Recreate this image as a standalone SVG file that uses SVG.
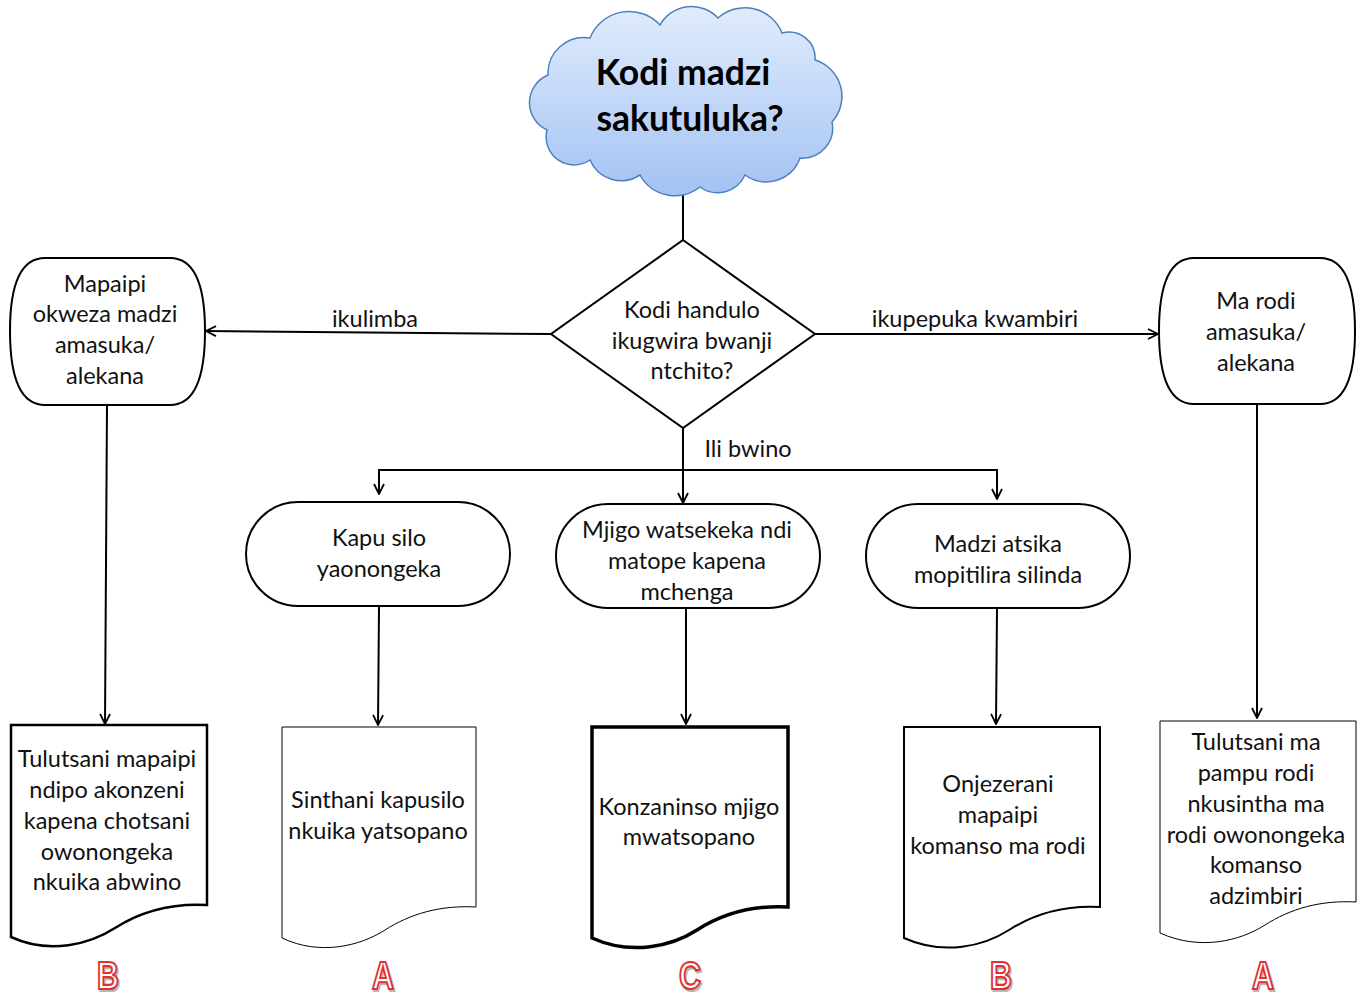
<svg xmlns="http://www.w3.org/2000/svg" width="1367" height="997" viewBox="0 0 1367 997">
<style>
.t{font-family:Lato,"Liberation Sans",sans-serif;font-size:23.5px;fill:#111;text-anchor:middle}
.b{font-family:Lato,"Liberation Sans",sans-serif;font-size:35.5px;font-weight:bold;fill:#000;text-anchor:middle}
.sh{fill:none;stroke:#000;stroke-width:2}
.c{fill:none;stroke:#000;stroke-width:2}
.doc{fill:#fff;stroke:#000}
.lt{font-family:"Liberation Sans",sans-serif;font-size:38px;font-weight:bold;text-anchor:middle}
.lr{fill:#fff;stroke:#e03030;stroke-width:2.2}
.lg{fill:none;stroke:#999;stroke-width:2.2;opacity:0.7}
</style>
<defs>
<linearGradient id="cg" x1="0" y1="0" x2="0" y2="1">
<stop offset="0" stop-color="#e1ecfc"/>
<stop offset="1" stop-color="#a3c2f3"/>
</linearGradient>
<marker id="ar" viewBox="0 0 12 12" refX="11" refY="6" markerWidth="12" markerHeight="12" markerUnits="userSpaceOnUse" orient="auto">
<path d="M1,1 L11,6 L1,11" fill="none" stroke="#000" stroke-width="1.8"/>
</marker>
</defs>

<g id="connectors">
<line class="c" x1="683" y1="190" x2="683" y2="240"/>
<line class="c" x1="551" y1="334" x2="206" y2="331" marker-end="url(#ar)"/>
<line class="c" x1="815" y1="334" x2="1158" y2="334" marker-end="url(#ar)"/>
<line class="c" x1="683" y1="428" x2="683" y2="503" marker-end="url(#ar)"/>
<polyline class="c" points="379,494 379,470 997,470 997,499" marker-end="url(#ar)"/>
<line class="c" x1="379" y1="480" x2="379" y2="494" marker-end="url(#ar)"/>
<line class="c" x1="107" y1="405" x2="105" y2="724" marker-end="url(#ar)"/>
<line class="c" x1="1257" y1="404" x2="1257" y2="718" marker-end="url(#ar)"/>
<line class="c" x1="379" y1="607" x2="378" y2="725" marker-end="url(#ar)"/>
<line class="c" x1="686" y1="609" x2="686" y2="724" marker-end="url(#ar)"/>
<line class="c" x1="997" y1="609" x2="996" y2="724" marker-end="url(#ar)"/>
<text class="t" x="375" y="327">ikulimba</text>
<text class="t" x="975" y="327">ikupepuka kwambiri</text>
<text class="t" x="748" y="457">Ili bwino</text>
</g>

<g id="cloud">
<path d="M547,130 A30,30 0 0 1 548,75 A36,36 0 0 1 590,38 A42,42 0 0 1 660,25 A36,36 0 0 1 718,18 A40,40 0 0 1 782,33 A26,26 0 0 1 815,60 A38,38 0 0 1 832,122 A30,30 0 0 1 800,158 A36,36 0 0 1 745,175 A30,30 0 0 1 700,187 A40,40 0 0 1 640,175 A34,34 0 0 1 590,160 A28,28 0 0 1 547,130 Z" fill="url(#cg)" stroke="#4f7fbf" stroke-width="1.5"/>
<text class="b" x="683" y="85">Kodi madzi</text>
<text class="b" x="690" y="131">sakutuluka?</text>
</g>

<g id="decision">
<polygon class="sh" points="683,240 815,334 683,428 551,334" fill="#fff"/>
<text class="t" x="692" y="318">Kodi handulo</text>
<text class="t" x="692" y="349">ikugwira bwanji</text>
<text class="t" x="692" y="379">ntchito?</text>
</g>

<g id="term-left">
<path class="sh" d="M45,258 L170,258 Q205,258 205,331 Q205,405 170,405 L45,405 Q10,405 10,331 Q10,258 45,258 Z" fill="#fff"/>
<text class="t" x="105" y="292">Mapaipi</text>
<text class="t" x="105" y="322">okweza madzi</text>
<text class="t" x="105" y="353">amasuka/</text>
<text class="t" x="105" y="384">alekana</text>
</g>

<g id="term-right">
<path class="sh" d="M1194,258 L1320,258 Q1355,258 1355,331 Q1355,404 1320,404 L1194,404 Q1159,404 1159,331 Q1159,258 1194,258 Z" fill="#fff"/>
<text class="t" x="1256" y="309">Ma rodi</text>
<text class="t" x="1256" y="340">amasuka/</text>
<text class="t" x="1256" y="371">alekana</text>
</g>

<g id="kapu">
<rect class="sh" x="246" y="502" width="264" height="104" rx="52" ry="52" fill="#fff"/>
<text class="t" x="379" y="546">Kapu silo</text>
<text class="t" x="379" y="577">yaonongeka</text>
</g>

<g id="mjigo">
<rect class="sh" x="556" y="504" width="264" height="104" rx="52" ry="52" fill="#fff"/>
<text class="t" x="687" y="538">Mjigo watsekeka ndi</text>
<text class="t" x="687" y="569">matope kapena</text>
<text class="t" x="687" y="600">mchenga</text>
</g>

<g id="madzi">
<rect class="sh" x="866" y="504" width="264" height="104" rx="52" ry="52" fill="#fff"/>
<text class="t" x="998" y="552">Madzi atsika</text>
<text class="t" x="998" y="583">mopitilira silinda</text>
</g>

<g id="doc1">
<path class="doc" stroke-width="2.5" d="M11,725 L207,725 L207,905 C170,903 140,912 115,928 C90,944 50,955 11,937 Z"/>
<text class="t" x="107" y="767">Tulutsani mapaipi</text>
<text class="t" x="107" y="798">ndipo akonzeni</text>
<text class="t" x="107" y="829">kapena chotsani</text>
<text class="t" x="107" y="860">owonongeka</text>
<text class="t" x="107" y="890">nkuika abwino</text>
</g>

<g id="doc2">
<path class="doc" stroke-width="1" d="M282,727 L476,727 L476,907 C440,905 410,914 385,930 C360,946 320,956 282,938 Z"/>
<text class="t" x="378" y="808">Sinthani kapusilo</text>
<text class="t" x="378" y="839">nkuika yatsopano</text>
</g>

<g id="doc3">
<path class="doc" stroke-width="3.5" d="M592,727 L788,727 L788,907 C752,905 722,914 697,930 C672,946 632,956 592,938 Z"/>
<text class="t" x="689" y="815">Konzaninso mjigo</text>
<text class="t" x="689" y="845">mwatsopano</text>
</g>

<g id="doc4">
<path class="doc" stroke-width="2" d="M904,727 L1100,727 L1100,907 C1064,905 1034,914 1009,930 C984,946 944,956 904,938 Z"/>
<text class="t" x="998" y="792">Onjezerani</text>
<text class="t" x="998" y="823">mapaipi</text>
<text class="t" x="998" y="854">komanso ma rodi</text>
</g>

<g id="doc5">
<path class="doc" stroke-width="1" d="M1160,721 L1356,721 L1356,902 C1320,900 1290,909 1265,925 C1240,941 1200,951 1160,933 Z"/>
<text class="t" x="1256" y="750">Tulutsani ma</text>
<text class="t" x="1256" y="781">pampu rodi</text>
<text class="t" x="1256" y="812">nkusintha ma</text>
<text class="t" x="1256" y="843">rodi owonongeka</text>
<text class="t" x="1256" y="873">komanso</text>
<text class="t" x="1256" y="904">adzimbiri</text>
</g>

<g id="letters">
<g transform="translate(108,989) scale(0.8,1)">
<text class="lt lg" x="1.5" y="1.5">B</text><text class="lt lr" x="0" y="0">B</text></g>
<g transform="translate(383,989) scale(0.8,1)">
<text class="lt lg" x="1.5" y="1.5">A</text><text class="lt lr" x="0" y="0">A</text></g>
<g transform="translate(690,989) scale(0.8,1)">
<text class="lt lg" x="1.5" y="1.5">C</text><text class="lt lr" x="0" y="0">C</text></g>
<g transform="translate(1001,989) scale(0.8,1)">
<text class="lt lg" x="1.5" y="1.5">B</text><text class="lt lr" x="0" y="0">B</text></g>
<g transform="translate(1263,989) scale(0.8,1)">
<text class="lt lg" x="1.5" y="1.5">A</text><text class="lt lr" x="0" y="0">A</text></g>
</g>
</svg>
